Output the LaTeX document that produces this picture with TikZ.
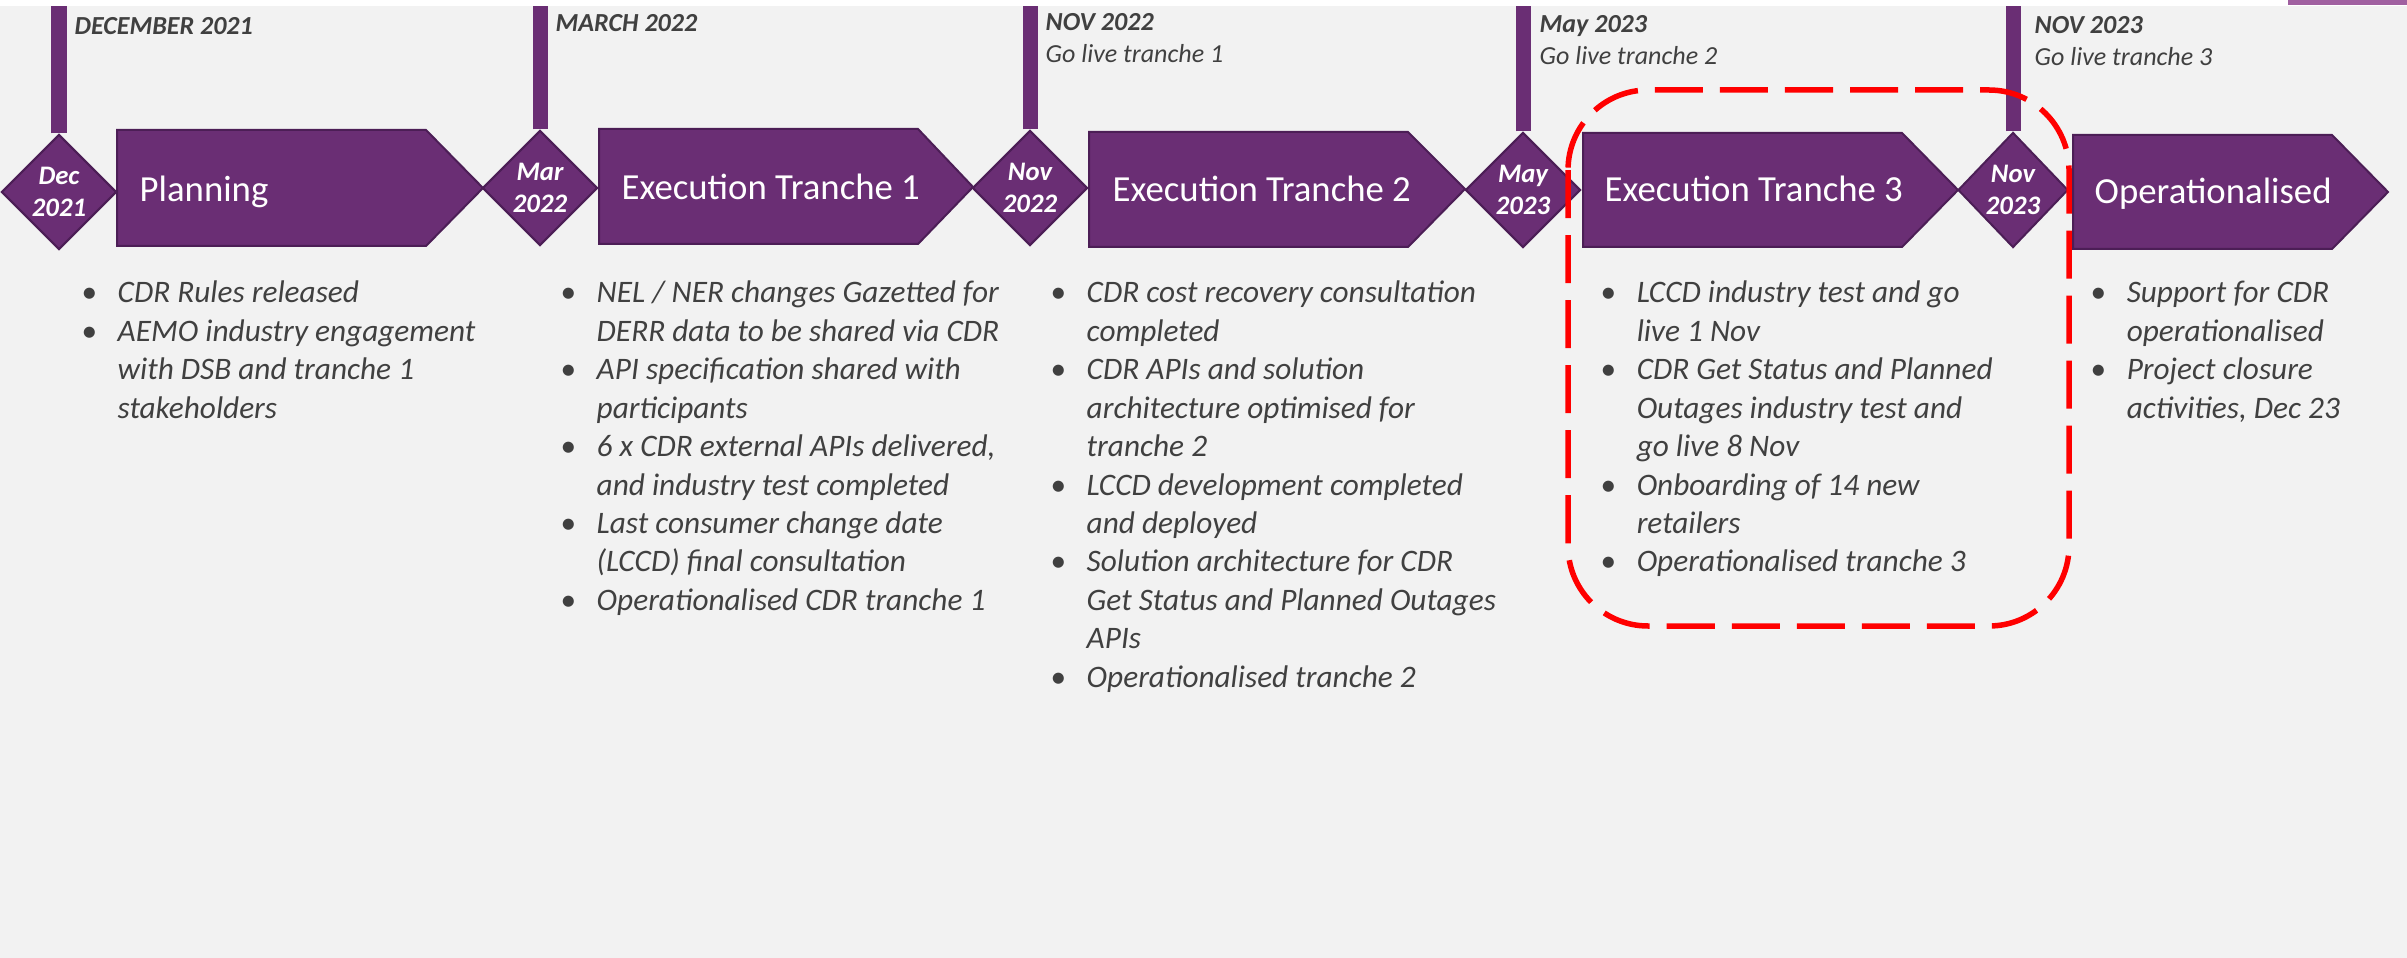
\documentclass[tikz,border=0pt]{standalone}
\usepackage{fontspec}
\setmainfont{Carlito}
\usetikzlibrary{shapes.geometric}

\definecolor{plum}{RGB}{106,46,116}
\definecolor{plumdark}{RGB}{76,30,86}
\definecolor{plumlight}{RGB}{160,96,160}
\definecolor{slate}{RGB}{64,64,64}
\definecolor{paper}{RGB}{242,242,242}

\newcommand{\bu}{\makebox[0.36cm][l]{\upshape\textbullet}}
\newcommand{\mfont}{\fontsize{7.4}{9.0}\selectfont}
\newcommand{\dfont}{\fontsize{7.6}{9.1}\selectfont}
\newcommand{\bfont}{\fontsize{8.9}{10.92}\selectfont}
\newcommand{\hfont}{\fontsize{10.45}{12}\selectfont}

\tikzset{
  phase/.style={fill=plum, draw=plumdark, line width=0.02cm},
  milestone/.style={diamond, fill=plum, draw=plumdark, line width=0.02cm,
    minimum width=1.15cm, minimum height=1.15cm, text=white, align=center,
    font=\dfont\bfseries\itshape},
  stem/.style={draw=plum, line width=0.15cm},
  headtext/.style={anchor=base west, text=white, font=\hfont},
  datelabel/.style={anchor=base west, text=slate, font=\mfont\bfseries\itshape},
  notes/.style={anchor=base west, text=slate, font=\bfont\itshape},
  focus/.style={draw=red, line width=0.055cm, rounded corners=0.8cm,
    dash pattern=on 0.48cm off 0.17cm}
}

\begin{document}
\begin{tikzpicture}[x=0.01cm, y=0.01cm]
\tikzstyle{every node}+=[inner sep=0pt]
\useasboundingbox (0,0) rectangle (2407,-958);
\fill [paper] (0,-6) rectangle (2407,-958);
\fill [plumlight] (2288,-5) rectangle (2407,0);
\coordinate (top) at (0,-6);
\draw [phase] (117,-130) -- (426,-130) -- (483,-188) -- (426,-246) -- (117,-246) -- cycle;
\draw [phase] (599,-129) -- (918,-129) -- (973,-187) -- (918,-244) -- (599,-244) -- cycle;
\draw [phase] (1089,-132) -- (1408,-132) -- (1465,-189) -- (1408,-247) -- (1089,-247) -- cycle;
\draw [phase] (1583,-133) -- (1902,-133) -- (1958,-190) -- (1902,-247) -- (1583,-247) -- cycle;
\draw [phase] (2073,-135) -- (2332,-135) -- (2388,-192) -- (2332,-249) -- (2073,-249) -- cycle;
\node [milestone] (mdec) at (59,-192) {Dec\\2021};
\node [milestone] (mmar) at (540,-188) {Mar\\2022};
\node [milestone] (mnov22) at (1030,-188) {Nov\\2022};
\node [milestone] (mmay) at (1523,-190) {May\\2023};
\node [milestone, minimum width=1.1cm] (mnov23) at (2013,-190) {Nov\\2023};
\foreach \m in {mdec,mmar,mnov22,mmay,mnov23}
  \draw [stem] (\m.north) -- (\m.north |- top);
\node [headtext] (planning) at (139,-202) {Planning};
\node [headtext] (tranche1) at (621,-200) {Execution Tranche 1};
\node [headtext] (tranche2) at (1112,-202) {Execution Tranche 2};
\node [headtext] (tranche3) at (1604,-202) {Execution Tranche 3};
\node [headtext] (operational) at (2094,-204) {Operationalised};
\node [datelabel] (ldec) at (74,-35) {DECEMBER 2021};
\node [datelabel] (lmar) at (555,-32) {MARCH 2022};
\node [datelabel] (lnov22) at (1045,-31) {\begin{tabular}[t]{@{}l@{}}NOV 2022\\\mdseries Go live tranche 1\end{tabular}};
\node [datelabel] (lmay) at (1539,-33) {\begin{tabular}[t]{@{}l@{}}May 2023\\\mdseries Go live tranche 2\end{tabular}};
\node [datelabel] (lnov23) at (2034,-34) {\begin{tabular}[t]{@{}l@{}}NOV 2023\\\mdseries Go live tranche 3\end{tabular}};
\node [notes] (nplan) at (81,-303) {\begin{tabular}[t]{@{}l@{}l@{}}
\bu & CDR Rules released\\
\bu & AEMO industry engagement\\
 & with DSB and tranche 1\\
 & stakeholders
\end{tabular}};
\node [notes] (ntranche1) at (560,-303) {\begin{tabular}[t]{@{}l@{}l@{}}
\bu & NEL / NER changes Gazetted for\\
 & DERR data to be shared via CDR\\
\bu & API specification shared with\\
 & participants\\
\bu & 6 x CDR external APIs delivered,\\
 & and industry test completed\\
\bu & Last consumer change date\\
 & (LCCD) final consultation\\
\bu & Operationalised CDR tranche 1
\end{tabular}};
\node [notes] (ntranche2) at (1050,-303) {\begin{tabular}[t]{@{}l@{}l@{}}
\bu & CDR cost recovery consultation\\
 & completed\\
\bu & CDR APIs and solution\\
 & architecture optimised for\\
 & tranche 2\\
\bu & LCCD development completed\\
 & and deployed\\
\bu & Solution architecture for CDR\\
 & Get Status and Planned Outages\\
 & APIs\\
\bu & Operationalised tranche 2
\end{tabular}};
\node [notes] (ntranche3) at (1600,-303) {\begin{tabular}[t]{@{}l@{}l@{}}
\bu & LCCD industry test and go\\
 & live 1 Nov\\
\bu & CDR Get Status and Planned\\
 & Outages industry test and\\
 & go live 8 Nov\\
\bu & Onboarding of 14 new\\
 & retailers\\
\bu & Operationalised tranche 3
\end{tabular}};
\node [notes] (noperational) at (2090,-303) {\begin{tabular}[t]{@{}l@{}l@{}}
\bu & Support for CDR\\
 & operationalised\\
\bu & Project closure\\
 & activities, Dec 23
\end{tabular}};
\draw [focus] (1568,-90) rectangle (2069,-626);
\end{tikzpicture}
\end{document}
